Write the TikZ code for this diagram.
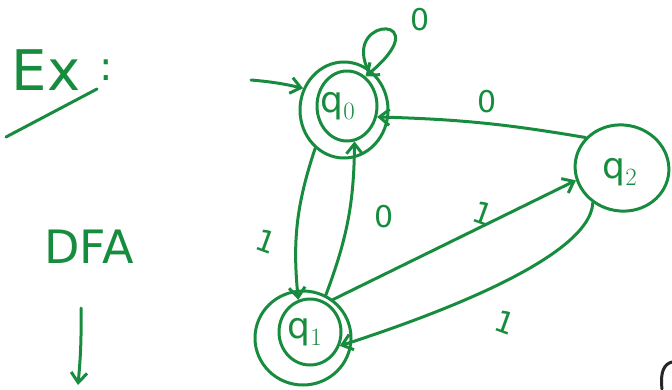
\documentclass[tikz,border=0pt]{standalone}
\usepackage{fontspec}
\setmainfont{DejaVu Sans}
\usetikzlibrary{shapes.geometric,arrows.meta}
\definecolor{ink}{RGB}{24,140,62}
\begin{document}
\begin{tikzpicture}[x=1pt,y=-1pt,
  pen/.style={draw=ink,line width=3pt,line cap=round,line join=round},
  ring/.style={pen,ellipse,inner sep=0pt},
  arr/.style={pen,-{Straight Barb[length=10pt,width=16pt,line width=3pt]}},
  lab/.style={text=ink,font=\fontsize{30}{30}\selectfont,inner sep=0pt},
  qlab/.style={text=ink,font=\fontsize{36}{36}\selectfont,inner sep=0pt}]
\useasboundingbox (0,0) rectangle (672,389);
% title
\node[text=ink,font=\fontsize{56}{56}\selectfont,inner sep=0pt] (ex) at (46,70) {Ex};
\node[text=ink,font=\fontsize{40}{40}\selectfont,inner sep=0pt] (colon) at (106,70) {:};
\coordinate (ul1) at (6,137);
\coordinate (ul2) at (97,89);
\draw[pen] (ul1) -- (ul2);
\node[text=ink,font=\fontsize{46}{46}\selectfont,inner sep=0pt] (dfa) at (89,247) {DFA};
\coordinate (da1) at (81,308);
\coordinate (da2) at (78,385);
\draw[arr] (da1) to[bend left=3] (da2);
% states
\node[ring,minimum width=88pt,minimum height=96pt] (q0o) at (344,110) {};
\node[ring,minimum width=60pt,minimum height=70pt] (q0i) at (347,106) {};
\node[qlab] (q0) at (338,106) {q$_0$};
\node[ring,minimum width=96pt,minimum height=94pt] (q1o) at (303,338) {};
\node[ring,minimum width=62pt,minimum height=66pt] (q1i) at (310,332) {};
\node[qlab] (q1) at (305,332) {q$_1$};
\node[ring,minimum width=94pt,minimum height=86pt,rotate=-10] (q2o) at (622,168) {};
\node[qlab] (q2) at (620,172) {q$_2$};
% start arrow
\coordinate (st) at (251,80);
\draw[arr] (st) to[bend left=4] (q0o.152);
% self loop
\draw[arr] (q0o.62) .. controls (345,15) and (440,15) .. (q0i.58);
\node[lab] (l00) at (420,20) {0};
% q0 -> q1
\draw[arr] (q0o.233) to[bend right=12] (q1i.110);
\node[lab,rotate=-20] (l01) at (266,241) {1};
% q1 -> q0
\draw[arr] (q1o.62) to[bend right=10] (q0i.282);
\node[lab] (l10) at (384,217) {0};
% q2 -> q0
\draw[arr] (q2o.150) to[bend right=4] (q0i.340);
\node[lab] (l20) at (487,102) {0};
% q1 -> q2
\draw[arr] (q1o.52) -- (q2o.205);
\node[lab,rotate=-20] (l12) at (483,213) {1};
% q2 -> q1
\draw[arr] (q2o.240) .. controls (590,260) and (420,320) .. (q1i.335);
\node[lab,rotate=-20] (l21) at (505,322) {1};
% partial shape at corner
\coordinate (c1) at (662,389);
\coordinate (c2) at (672,362);
\draw[draw=black!85,line width=3pt,line cap=round] (c1) .. controls (660,372) and (664,364) .. (c2);
\end{tikzpicture}
\end{document}
